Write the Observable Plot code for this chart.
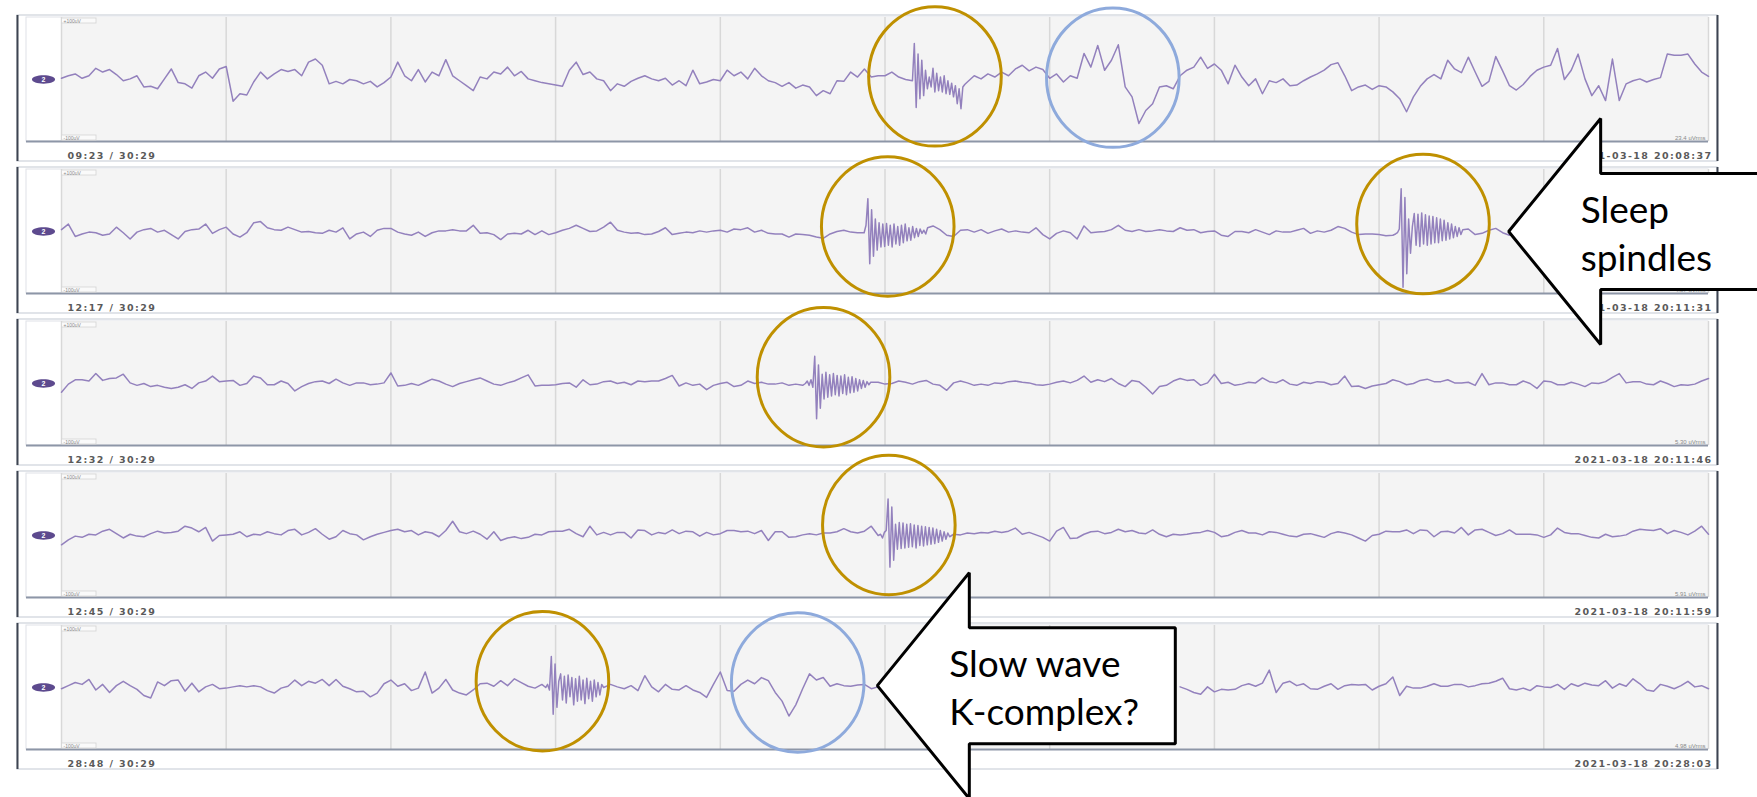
<!DOCTYPE html>
<html>
<head>
<meta charset="utf-8">
<script src="https://cdn.jsdelivr.net/npm/d3@7"></script>
<script src="https://cdn.jsdelivr.net/npm/@observablehq/plot@0.6"></script>
<style>
  html, body { margin: 0; padding: 0; background: #fff; overflow: hidden; }
  #chart svg { display: block; }
  g[font-family="DejaVu Sans"] { letter-spacing: 1.4px; }
</style>
</head>
<body>
<div id="chart"></div>
<script>
// ---- EEG epochs: one channel ("2"), five 30 s pages, values in µV ----
const sampleStep = 0.125;   // s between background samples
const burstStep = 0.034;    // s between samples inside a spindle burst

const pageLabels = ["09:23 / 30:29", "12:17 / 30:29", "12:32 / 30:29", "12:45 / 30:29", "28:48 / 30:29"];
const pageStamps = ["2021-03-18 20:08:37", "2021-03-18 20:11:31", "2021-03-18 20:11:46", "2021-03-18 20:11:59", "2021-03-18 20:28:03"];
const pageRms = ["23.4 uVrms", "4.87 uVrms", "5.30 uVrms", "5.91 uVrms", "4.98 uVrms"];
const gridTimes = [0, 3, 6, 9, 12, 15, 18, 21, 24, 27, 30];

// background EEG, one value per sampleStep (null = covered by a burst or not shown)
const trace1 = [
  2, 6, 9, 2, 6, 18, 12, 16, 8, -2, 1, 6, -12, -11, -15, 1, 17, -5, -7, -14, 6, 12, 2, 17,
  21, -35, -23, -25, -4, 12, 1, 9, 16, 13, 16, 6, 28, 33, 23, -7, -3, -7, 0, -2, -7, -3, -12, -5,
  4, 28, 6, -2, 16, -4, 12, 6, 32, 6, -2, -10, -18, 4, 1, 12, 9, 20, 6, 13, 1, -2, -5, -7,
  -9, -11, 15, 28, 8, 12, 1, -2, -18, -7, -11, -3, 2, 6, 1, -2, 2, -9, -2, -10, 15, -7, -4, 0,
  -2, 15, 6, 12, 1, 18, 6, -2, -5, -11, -5, -14, -9, -12, -26, -18, -23, -2, -3, 12, 4, 17, 4, 6,
  6, 12, 4, 0, null, null, null, null, null, null, null, null, -4, 6, 1, 9, 4, 12, 6, 17, 23, 14, 20, 16,
  2, 9, -4, 6, 2, 42, 20, 55, 15, 31, 56, -12, -28, -71, -50, -39, -12, -10, -15, 6, 15, 20, 36, 18,
  25, 15, -7, 23, 4, -10, 1, -23, -2, -5, 1, -10, -9, -2, 4, 9, 15, 24, 27, 6, -18, -12, -9, -16,
  -10, -12, -20, -31, -52, -28, -11, 1, 8, 1, 31, 17, 11, 36, 12, -11, -3, 37, 14, -10, -17, -8, 5, 15,
  20, 23, 50, 0, 15, 41, 1, -26, -10, -34, 33, -34, -7, -2, 1, -4, 0, 3, 41, 39, 39, 41, 25, 12,
  5
];
const trace2 = [
  3, 12, -8, -4, -1, -2, -6, -4, 7, -2, -12, -1, 3, 5, -1, 2, -5, -12, 0, 3, 4, 12, -3, 3,
  7, -4, -9, -2, 14, 16, 6, 3, 2, 7, 3, -1, 0, -2, -3, 2, -1, 6, -12, -4, -1, -8, 2, 5,
  5, -1, -4, -6, -1, -8, -2, 1, 1, 3, 1, 1, 10, -3, -2, -5, -13, -4, -3, -4, 2, -5, 1, -5,
  -2, 2, 5, 10, 5, 0, 1, 7, 15, 2, -1, -3, -2, -5, -4, 0, 6, -5, -3, -1, -2, 1, -1, 1,
  2, -1, 4, 3, 6, -1, 2, -3, -4, -4, -9, -4, -5, -6, -9, -11, -4, 0, 2, -1, -2, null, null, null,
  null, null, null, null, null, null, null, 9, 3, -6, -8, 2, 3, -1, 3, -3, 1, 4, -1, 1, -1, -2, 6, -5,
  -12, -3, 1, -2, -12, 9, -2, -1, 0, 3, 10, 2, 0, 3, 0, 1, 3, 1, 0, 6, 2, 3, -2, 0,
  1, -6, -8, 0, 0, -2, 3, -1, -5, 1, -1, -1, 2, 5, -3, 1, -1, 2, 8, 5, -1, -5, -4, -4,
  -5, -7, -6, null, null, null, null, null, null, null, null, null, null, 4, -5, -3, 2, 5, -2, -6, 3
];
const trace3 = [
  -14, -1, 6, 6, 4, 16, 5, 8, 9, 15, 1, -3, 0, -5, -3, -6, -8, -6, -2, -8, 1, 4, 12, 3,
  4, 5, -3, 0, 12, 9, -2, -2, 4, 0, -12, -5, 0, 3, 4, 0, 7, 1, -3, 1, 1, -2, -1, 1,
  17, -4, -3, 0, -3, 2, 7, 4, -1, -5, 0, 3, 6, 9, 4, -1, -3, 1, 4, 9, 14, -4, -3, -3,
  -2, 0, 1, -6, 6, -2, -1, 3, 4, 0, 2, -2, 4, 3, 4, 4, 8, 13, -4, 1, -3, -1, -10, -3,
  0, 2, -5, -3, 4, 0, 2, -1, -1, 1, -3, -1, -3, null, null, null, null, null, null, null, null, null, 1, 2,
  -1, 0, 4, 2, -1, 3, 5, -1, -3, -11, 1, 4, 1, -3, -1, -3, 1, 0, 3, 4, 2, 1, -2, -3,
  -1, 2, 4, 1, 5, 12, 2, 6, 3, 8, 0, -5, 5, 3, -6, -17, -5, -3, 4, 8, 5, 6, -3, 1,
  15, 0, 2, -3, -1, 2, 1, 9, 3, 1, 6, -1, -3, 2, 0, 3, 2, -2, 0, 12, -5, -4, -8, -4,
  -2, 0, 6, 3, -2, 0, 5, 7, 3, 3, 6, 1, 1, 2, -3, 16, -2, 1, 1, -2, -2, 4, 0, -8,
  4, 3, -2, -2, 2, -1, -5, 1, 0, 3, 10, 16, 1, 3, 3, -1, -2, 4, 0, -5, -2, -3, -1, 4,
  8
];
const trace4 = [
  -15, -7, -1, -3, 2, 1, 7, 10, 3, -4, 2, -1, -2, 3, 7, 4, 5, 7, 15, 12, 6, 13, -9, 0,
  1, 2, 6, -2, 2, 1, 6, 3, 1, 8, 10, 1, 5, 11, 2, -6, -2, 8, 3, 1, -7, -2, 2, 5,
  8, 10, 6, 8, 1, 6, 4, -2, 8, 23, 6, 3, 7, 2, -6, 6, -8, -4, -2, -5, -3, 2, 1, 6,
  7, 7, 10, 3, -2, 15, 1, 5, 1, 5, 5, -4, 9, 8, 1, 5, 3, 9, 3, 7, 6, -1, 5, 1,
  3, 8, 8, 6, 7, 3, 8, -8, 6, 6, -3, -2, 1, 3, 1, 4, 4, 6, 11, 6, 4, 7, 15, 0,
  null, null, null, null, null, null, null, null, null, null, 2, 1, 4, 3, 5, 4, 7, 5, 7, 12, 2, 5, 1, -3,
  -9, 7, 13, -5, -4, 2, 6, 7, 3, 5, 10, 6, 8, 4, 3, 9, 2, -2, 2, 1, 2, 4, 5, 8,
  5, -2, 0, 5, 8, 4, 4, 1, 6, 5, 2, -1, -2, 2, 3, 0, -3, 3, 6, 4, 1, -4, -9, 0,
  2, 7, 6, 6, 9, 3, 9, 8, -2, 6, 7, 4, 13, 1, 9, 10, 5, 0, 3, 9, 2, 2, 2, 1,
  -3, 1, 12, 5, 3, 3, 0, -3, -4, 2, -2, -1, 1, 7, 10, 9, 8, 11, 3, 8, 5, 1, 7, 15,
  2
];
const trace5 = [
  -2, 3, 8, 5, 13, -4, 5, -8, 3, 10, 3, -3, -13, -17, 9, 3, 11, 12, -6, 7, -7, 1, 5, -2,
  -1, 1, 3, 1, 3, 1, -5, -9, -1, 2, 12, 3, 10, 7, 13, 3, 13, 2, -2, -7, -6, -15, -9, 6,
  12, 2, 6, -5, -1, 25, -9, -1, 13, -4, -9, -12, -4, 6, 7, 2, 11, 3, 14, 8, 2, -1, 5, null,
  null, null, null, null, null, null, null, 0, 5, 1, -2, 3, -5, 19, 1, -7, 5, -3, -4, 3, -4, -8, -16, 5,
  25, -5, -6, 5, 12, 6, 16, 11, -8, -22, -46, -28, -2, 22, 12, 16, 2, 6, 3, 2, 4, 5, -2, 1,
  null, null, null, null, null, null, null, null, null, null, null, null, null, null, null, null, null, null, null, null, null, null, null, null,
  null, null, null, null, null, null, null, null, null, null, null, null, null, null, null, null, null, null, null, 1, -3, -8, -11, 1,
  -7, -3, -4, -3, 3, 6, 2, 7, 28, -8, 7, 10, 3, 6, -2, -3, 2, 6, -3, 3, 5, 4, 5, -4,
  2, 6, 17, -13, 2, -1, -1, 2, 6, 2, 2, 5, 5, 1, 3, 6, 7, 10, 15, -2, -4, -1, -5, 3,
  1, 0, 5, -3, 6, 2, 7, 4, 3, 11, -1, 6, 2, 14, 6, -4, -6, 5, 2, -2, 3, 10, 1, 3,
  -2
];

// sleep-spindle bursts: page index, start time (s), samples every burstStep
const burstPage = [0, 1, 1, 2, 3, 4];
const burstStart = [15.50, 14.62, 24.30, 13.55, 14.92, 8.82];
const burst1 = [-2, 58, -45, 41, -31, 31, -26, 15, -15, 4, -12, 18, -20, 10, -18, 4, -20, 6, -23, -2, -24, -6, -28, -10, -39, -15, -47, -12, -8];
const burst2 = [-2, 10, 53, -52, 35, -40, 20, -30, 14, -25, 12, -24, 13, -22, 10, -25, 12, -20, 8, -22, 10, -18, 12, -15, 6, -14, 8, -10, 5, -8, 4, -3, 2, -4, 6];
const burst3 = [-4, -2, 4, 69, -90, 55, -68, 20, -35, 8, 29, -22, 28, -24, 30, -20, 27, -22, 25, -20, 24, -18, 22, -18, 20, -15, 18, -14, 14, -12, 12, -10, 8, -8, 6, -5, 3];
const burst4 = [0, 4, -3, 6, -6, 44, -57, 30, -40, 15, -25, 18, -22, 14, -20, 16, -18, 13, -20, 12, -16, 14, -18, 10, -15, 11, -14, 8, -12, 6, -8, 5, -6, 3, -2, 2];
const burst5 = [2, -4, 5, 8, 59, -51, 46, -40, 18, -22, 21, -21, 20, -20, 18, -19, 19, -18, 17, -20, 16, -16, 15, -17, 14, -15, 13, -14, 12, -13, 10, -11, 8, -9, 6, -6, 4, -2];
const burst6 = [0, 5, -4, 50, -43, 38, -32, 10, 22, -20, 18, -25, 20, -15, 16, -28, 14, -22, 18, -20, 12, -26, 15, -18, 10, -22, 12, -15, 8, -12, 5];

// circled events: page, centre time (s), centre level (µV), kind
const eventPage = [0, 0, 1, 1, 2, 3, 4, 4];
const eventTime = [15.91, 19.15, 15.05, 24.80, 13.88, 15.07, 8.76, 13.41];
const eventLevel = [5, 3, 8, 12, 10, 17, 10, 8];
const eventKind = ["spindle", "slow", "spindle", "spindle", "spindle", "spindle", "spindle", "slow"];

// call-out arrows: page, tip time (s), tip level (µV), text
const calloutPage = [1, 4];
const calloutTime = [26.36, 14.86];
const calloutLevel = [0, 3];
const calloutText = ["Sleep\nspindles", "Slow wave\nK-complex?"];

// ---- layout ----
const W = 1757, H = 797;
const M = {top: 17, right: 49, bottom: 48, left: 61};
const PANEL_H = 124, PANEL_STEP = 152;          // px per page plot, px between page tops
const uvPerPx = 200 / PANEL_H;
const secPerPx = 30 / (W - M.left - M.right);
const zeroOf = k => -k * PANEL_STEP * uvPerPx; // µV offset of page k's zero line
const topOf = k => zeroOf(k) + 100;
const bottomOf = k => zeroOf(k) - 100;
const dxT = p => p * secPerPx;                  // px -> s
const yAt = (k, p) => topOf(k) - p * uvPerPx;    // p px below page top
const CARD = {left: 44, right: 9, top: 2, bottom: 144};
const GUTTER = 35;
const ARROW = [[0, 0], [92, -113], [92, -58], [298, -58], [298, 58], [92, 58], [92, 113]];

const pages = d3.range(5);
const traces = [trace1, trace2, trace3, trace4, trace5];
const bursts = [burst1, burst2, burst3, burst4, burst5, burst6];

// merge background samples and bursts into one ordered series per page
const points = [];
traces.forEach((vals, k) => {
  const wins = burstPage.map((p, i) => p === k
    ? {i, a: burstStart[i] - 0.02, b: burstStart[i] + (bursts[i].length - 1) * burstStep + 0.02} : null).filter(Boolean);
  const pts = [];
  vals.forEach((v, j) => {
    const t = j * sampleStep;
    if (wins.some(w => t >= w.a && t <= w.b)) return;
    pts.push({k, t, v});
  });
  wins.forEach(w => bursts[w.i].forEach((v, j) => pts.push({k, t: burstStart[w.i] + j * burstStep, v})));
  pts.sort((a, b) => a.t - b.t);
  points.push(...pts);
});

const grid = pages.flatMap(k => gridTimes.map(t => ({k, t})));
const events = eventPage.map((k, i) => ({k, t: eventTime[i], v: eventLevel[i], kind: eventKind[i]}));
const arrows = calloutPage.flatMap((k, i) => ARROW.map(([dx, dy]) => ({
  id: i, t: calloutTime[i] + dxT(dx), y: zeroOf(k) + calloutLevel[i] - dy * uvPerPx
})));
const callouts = calloutPage.map((k, i) => ({k, t: calloutTime[i], v: calloutLevel[i], text: calloutText[i]}));

// ellipse symbol (size = πr²)
const ellipse = (sx, sy) => ({
  draw(ctx, size) {
    const r = Math.sqrt(size / Math.PI), rx = r * sx, ry = r * sy, c = 0.5523;
    ctx.moveTo(rx, 0);
    ctx.bezierCurveTo(rx, ry * c, rx * c, ry, 0, ry);
    ctx.bezierCurveTo(-rx * c, ry, -rx, ry * c, -rx, 0);
    ctx.bezierCurveTo(-rx, -ry * c, -rx * c, -ry, 0, -ry);
    ctx.bezierCurveTo(rx * c, -ry, rx, -ry * c, rx, 0);
    ctx.closePath();
  }
});

const chart = Plot.plot({
  width: W, height: H,
  marginTop: M.top, marginRight: M.right, marginBottom: M.bottom, marginLeft: M.left,
  x: {domain: [0, 30], axis: null},
  y: {domain: [bottomOf(4), topOf(0)], axis: null},
  style: {overflow: "hidden", background: "white"},
  marks: [
    // page cards
    Plot.rect(pages, {x1: () => -dxT(CARD.left), x2: () => 30 + dxT(CARD.right),
      y1: k => yAt(k, -CARD.top), y2: k => yAt(k, CARD.bottom), fill: "white", stroke: "#cdd2da", strokeWidth: 1.2}),
    Plot.ruleX(pages.flatMap(k => [{k, x: -dxT(CARD.left)}, {k, x: 30 + dxT(CARD.right)}]),
      {x: "x", y1: d => yAt(d.k, -CARD.top), y2: d => yAt(d.k, CARD.bottom), stroke: "#3d4451", strokeWidth: 2}),
    Plot.rect(pages, {x1: () => -dxT(GUTTER), x2: () => 30, y1: topOf, y2: bottomOf, fill: "white", stroke: "#dfe2e7", strokeWidth: 1}),
    Plot.rect(pages, {x1: () => 0, x2: () => 30, y1: topOf, y2: bottomOf, fill: "#f4f4f4"}),
    Plot.ruleX(grid, {x: "t", y1: d => topOf(d.k), y2: d => bottomOf(d.k), stroke: "#d8d8d8", strokeWidth: 1.5}),
    Plot.ruleY(pages, {y: bottomOf, x1: () => -dxT(GUTTER), x2: () => 30, stroke: "#8d96a7", strokeWidth: 2}),

    // scale tags
    Plot.rect(pages, {x1: () => dxT(0.5), x2: () => dxT(35), y1: k => yAt(k, 1), y2: k => yAt(k, 6), fill: "#fafafa", stroke: "#d4d4d4", strokeWidth: 0.8}),
    Plot.rect(pages, {x1: () => dxT(0.5), x2: () => dxT(35), y1: k => yAt(k, 118), y2: k => yAt(k, 123), fill: "#fafafa", stroke: "#d4d4d4", strokeWidth: 0.8}),
    Plot.text(pages, {x: () => dxT(2), y: k => yAt(k, 3.5), text: () => "+100uV", textAnchor: "start", fontSize: 5, fill: "#8a8a8a", fontFamily: "Liberation Sans"}),
    Plot.text(pages, {x: () => dxT(2), y: k => yAt(k, 120.5), text: () => "-100uV", textAnchor: "start", fontSize: 5, fill: "#8a8a8a", fontFamily: "Liberation Sans"}),

    // channel pill
    Plot.dot(pages, {x: () => -dxT(18), y: zeroOf, r: 7, symbol: ellipse(1.65, 0.6), fill: "#5d4a8e", stroke: "none"}),
    Plot.text(pages, {x: () => -dxT(18), y: zeroOf, text: () => "2", fill: "white", fontSize: 7, fontWeight: "bold", fontFamily: "Liberation Sans"}),

    // page position, RMS and wall-clock stamp
    Plot.text(pages, {x: () => 30 - dxT(3), y: k => yAt(k, 120.5), text: k => pageRms[k], textAnchor: "end", fontSize: 6, fill: "#8a8a8a", fontFamily: "Liberation Sans"}),
    Plot.text(pages, {x: () => dxT(6), y: k => yAt(k, 138.5), text: k => pageLabels[k], textAnchor: "start",
      fontFamily: "DejaVu Sans", fontWeight: "bold", fontSize: 9.5, fill: "#5a5a5a"}),
    Plot.text(pages, {x: () => 30 + dxT(4), y: k => yAt(k, 138.5), text: k => pageStamps[k], textAnchor: "end",
      fontFamily: "DejaVu Sans", fontWeight: "bold", fontSize: 9.5, fill: "#5a5a5a"}),

    // EEG trace
    Plot.line(points, {x: "t", y: d => d.v == null ? null : d.v + zeroOf(d.k), z: "k",
      stroke: "#9381bd", strokeWidth: 1.5, strokeLinejoin: "round"}),

    // circled events
    Plot.dot(events.filter(d => d.kind === "spindle"), {x: "t", y: d => zeroOf(d.k) + d.v, r: 68,
      symbol: ellipse(0.975, 1.025), stroke: "#bf9000", strokeWidth: 3, fill: "none"}),
    Plot.dot(events.filter(d => d.kind === "slow"), {x: "t", y: d => zeroOf(d.k) + d.v, r: 68,
      symbol: ellipse(0.975, 1.025), stroke: "#8eaadc", strokeWidth: 3, fill: "none"}),

    // call-out arrows
    Plot.line(arrows, {x: "t", y: "y", z: "id", curve: "linear-closed", fill: "white", stroke: "black",
      strokeWidth: 3, strokeLinejoin: "miter"}),
    Plot.text(callouts, {x: d => d.t + dxT(72), y: d => zeroOf(d.k) + d.v, text: "text", textAnchor: "start",
      fontFamily: "Lato", fontSize: 37, lineHeight: 1.3, fill: "black"})
  ]
});

document.getElementById("chart").append(chart);
</script>
</body>
</html>
